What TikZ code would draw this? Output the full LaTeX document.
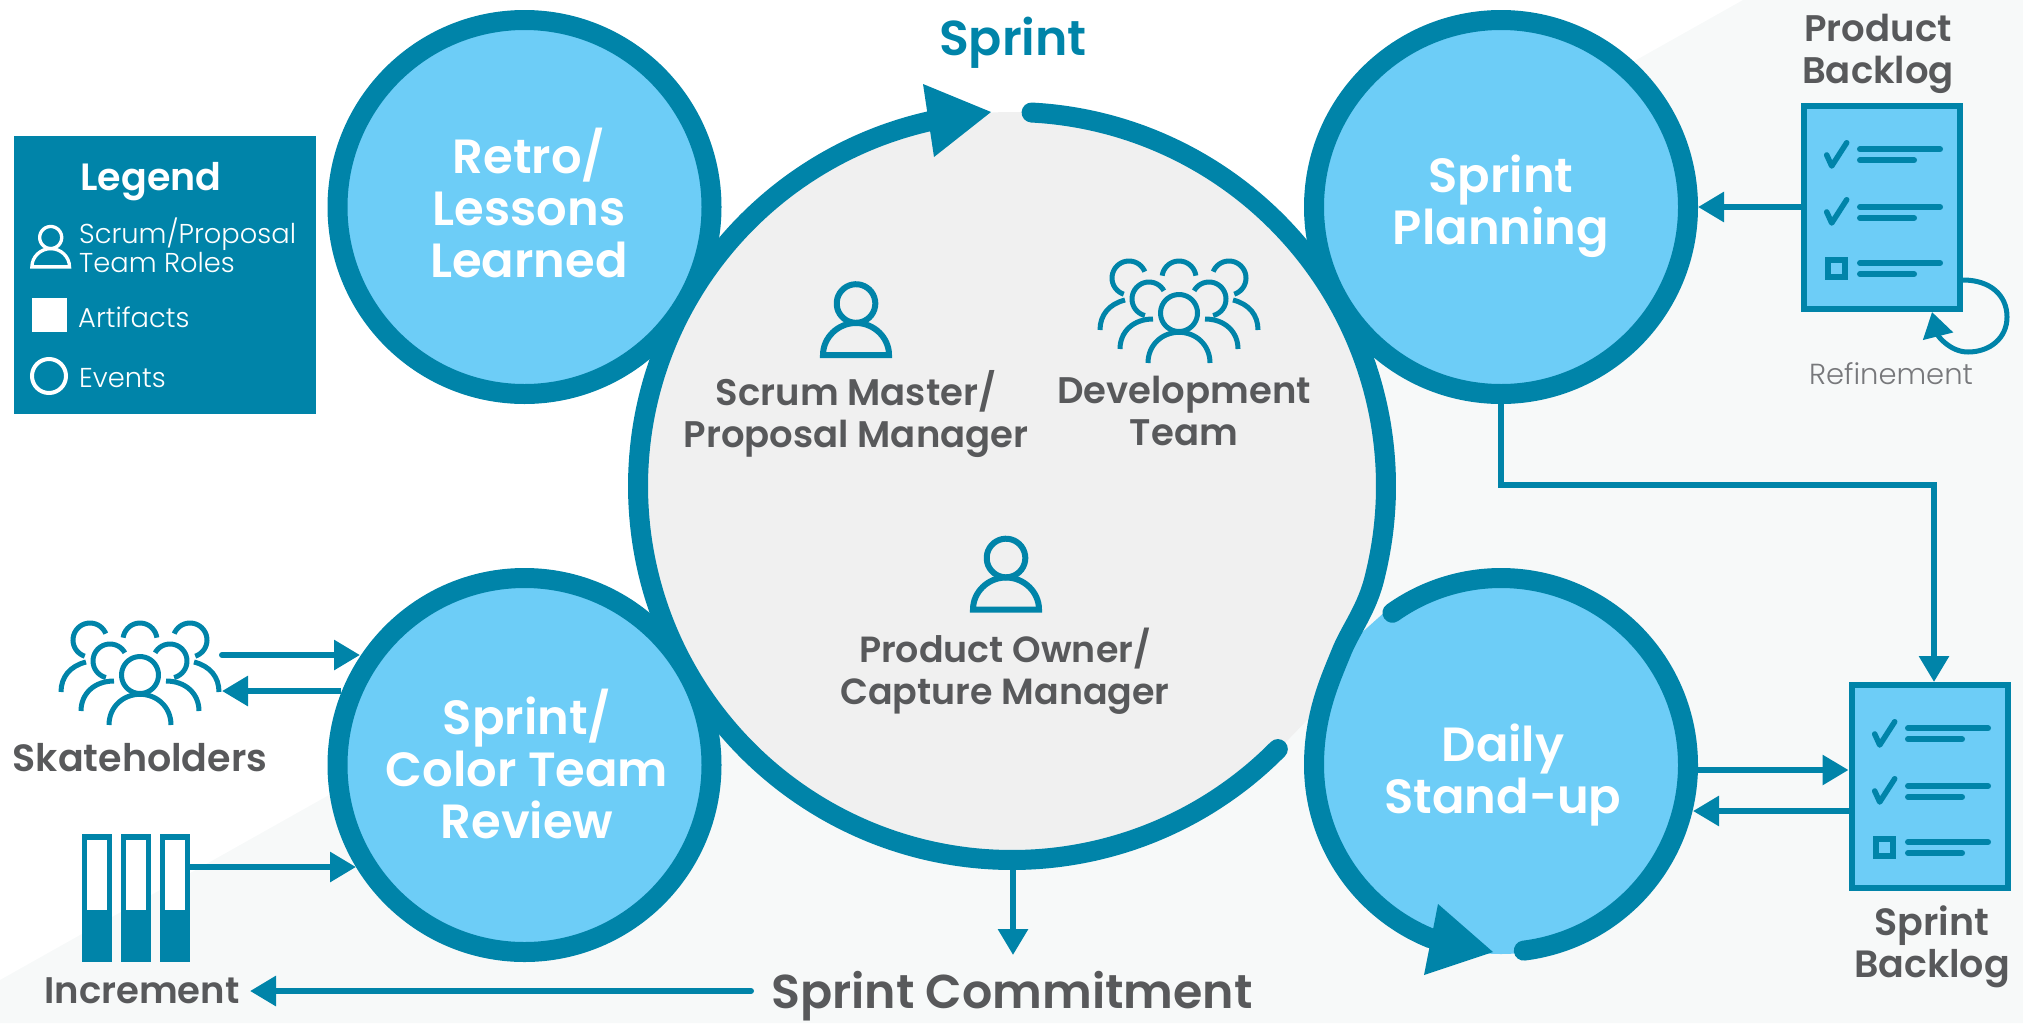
\documentclass[tikz,border=0pt]{standalone}
\usepackage{fontspec}
\setmainfont{Poppins}[BoldFont={Poppins SemiBold}]
\newfontfamily\thinfont{Poppins Light}
\usetikzlibrary{arrows.meta,calc}
\definecolor{ringteal}{HTML}{0084A9}
\definecolor{skyfill}{HTML}{6DCDF7}
\definecolor{loopgray}{HTML}{F0F0F0}
\definecolor{bgtint}{HTML}{F7F9F9}
\definecolor{inkgray}{HTML}{58595B}
\definecolor{thingray}{HTML}{77787B}
\tikzset{
  conn/.style={draw=ringteal,line width=6pt,-{Triangle[length=26pt,width=29pt,color=ringteal]}},
  ringline/.style={draw=ringteal,line width=20pt,line cap=round},
  evt/.style={circle,draw=ringteal,fill=skyfill,line width=20pt,minimum size=374pt,inner sep=0pt},
  evttext/.style={text=white,font=\fontsize{48}{52}\selectfont\bfseries,align=center,inner sep=0pt},
  roletext/.style={text=inkgray,font=\fontsize{37}{42}\selectfont\bfseries,align=center,inner sep=0pt},
  legtext/.style={text=white,font=\fontsize{27.3}{29}\selectfont\thinfont,align=left,anchor=west,inner sep=0pt},
  docbox/.style={rectangle,draw=ringteal,fill=skyfill,line width=6pt,minimum width=156pt,minimum height=203pt,inner sep=0pt},
  binder/.style={rectangle,fill=ringteal,minimum width=30pt,minimum height=128pt,inner sep=0pt},
  person/.pic={
    \draw plot[domain=0:360,samples=40,smooth] ({19.3*cos(\x)},{19.3*sin(\x)});
    \draw[line join=miter] (-33,51.5) .. controls (-33,34) and (-18,19.5) .. (0,19.5) .. controls (18,19.5) and (33,34) .. (33,51.5) -- cycle;
  },
  group/.pic={
    \begin{scope}[ringteal,line width=5pt]
    \draw plot[domain=0:360,samples=40,smooth] ({18.5*cos(\x)},{18.5*sin(\x)});
    \draw (-31,50) .. controls (-31,32) and (-17,19.3) .. (0,19.3) .. controls (17,19.3) and (31,32) .. (31,50);
    \draw plot[domain=-172:-8,samples=20,smooth] ({17*cos(\x)},{-35+17*sin(\x)});
    \draw plot[domain=-22:-252,samples=30,smooth] ({-50+17*cos(\x)},{-35+17*sin(\x)});
    \draw plot[domain=-22:-252,samples=30,smooth] ({50-17*cos(\x)},{-35+17*sin(\x)});
    \draw plot[domain=-29:-256,samples=30,smooth] ({-30+17*cos(\x)},{-14+17*sin(\x)});
    \draw plot[domain=-29:-256,samples=30,smooth] ({30-17*cos(\x)},{-14+17*sin(\x)});
    \draw (-59,36) .. controls (-59,19) and (-46,6) .. (-26,6);
    \draw (59,36) .. controls (59,19) and (46,6) .. (26,6);
    \draw (-79,17) .. controls (-79,2) and (-70,-9) .. (-54,-13);
    \draw (79,17) .. controls (79,2) and (70,-9) .. (54,-13);
    \end{scope}
  },
  checkmark/.pic={
    \draw[ringteal,line width=5.5pt,line cap=round,line join=round] (0,0) -- (5,11) -- (20,-12.3);
  },
  doclines/.pic={
    \pic at (26.7,52) {checkmark};
    \pic at (26.7,109) {checkmark};
    \draw[ringteal,line width=6pt] (28,157) rectangle (45,174);
    \begin{scope}[ringteal,line width=6pt,line cap=round]
    \draw (60,46.3) -- (140,46.3);
    \draw (60,57.3) -- (114,57.3);
    \draw (60,104) -- (140,104);
    \draw (60,115) -- (114,115);
    \draw (60,160) -- (140,160);
    \draw (60,171) -- (114,171);
    \end{scope}
  }
}
\begin{document}
\begin{tikzpicture}[x=1pt,y=-1pt]
\useasboundingbox (0,0) rectangle (2023,1023);
% tinted background
\fill[bgtint] (0,980) -- (1743,0) -- (2023,0) -- (2023,1023) -- (0,1023) -- cycle;
% central loop
\node[circle,fill=loopgray,minimum size=748pt,inner sep=0pt] (loop) at (1012,486) {};
\fill[loopgray] (1283,745) -- (1310,717) -- (1330,680) -- (1200,600) -- cycle;
\node[circle,fill=skyfill,minimum size=378pt,inner sep=0pt] (daily) at (1501,765) {};
\fill[skyfill] (1387,610) -- (1358,636) -- (1330,700) -- (1450,700) -- cycle;
% ring: bottom arc up to the Sprint arrow
\draw[ringline] plot[domain=44.7:258,samples=120,smooth] ({1012+374*cos(\x)},{486+374*sin(\x)});
\fill[ringteal] (991,112) -- (923,84) -- (934,157) -- cycle;
% ring: top right arc, S curve and Daily left side
\draw[ringline] plot[domain=-87:14,samples=60,smooth] ({1012+374*cos(\x)},{486+374*sin(\x)})
  .. controls (1367,610) and (1350,630) .. (1341,653)
  .. controls (1330,680) and (1314,715) .. (1314,765)
  plot[domain=180:112,samples=40,smooth] ({1501+187*cos(\x)},{765+187*sin(\x)});
\fill[ringteal] (1493,952) -- (1438,904) -- (1424,975) -- cycle;
% Daily ring
\draw[ringline] plot[domain=-125.5:83,samples=100,smooth] ({1501+187*cos(\x)},{765+187*sin(\x)});
% events
\node[evt] (retro) at (524.5,207) {};
\node[evt] (plan) at (1501,207) {};
\node[evt] (review) at (524.5,765) {};
\node[evttext] (retrotext) at (529,203) {Retro/\\Lessons\\Learned};
\node[evttext] (plantext) at (1501,206) {Sprint\\Planning};
\node[evttext] (reviewtext) at (527,764) {Sprint/\\Color Team\\Review};
\node[evttext] (dailytext) at (1503,775) {Daily\\Stand-up};
% title and loop contents
\node[text=ringteal,font=\fontsize{49}{52}\selectfont\bfseries,inner sep=0pt] (sprint) at (1013,43) {Sprint};
\pic[ringteal,line width=6pt] at (856,303.5) {person};
\node[roletext] (sm) at (856,414) {Scrum Master/\\Proposal Manager};
\pic at (1179,313) {group};
\node[roletext] (dev) at (1184,411) {Development\\Team};
\pic[ringteal,line width=6pt] at (1006,558) {person};
\node[text=inkgray,font=\fontsize{36.4}{42}\selectfont\bfseries,align=center,inner sep=0pt] (po) at (1005,671) {Product Owner/\\Capture Manager};
% product backlog
\node[roletext] (pbtext) at (1878,54) {Product\\Backlog};
\node[docbox] (pb) at (1882,207.5) {};
\pic at (1800,103) {doclines};
\coordinate (pbside) at (1882,207);
\draw[conn] (pbside -| pb.west) -- (plan.east);
\draw[ringteal,line width=5pt,-{Triangle[length=25pt,width=30pt,color=ringteal]}] (pb.east |- 0,280) .. controls (1990,280) and (2007,295) .. (2007,317) .. controls (2007,338) and (1990,352) .. (1968,352) .. controls (1950,352) and (1938,336) .. (1932,312);
\node[text=thingray,font=\fontsize{29}{32}\selectfont\thinfont,inner sep=0pt] (refine) at (1891,374) {Refinement};
% sprint backlog
\node[docbox] (sb) at (1929.5,786.5) {};
\pic at (1848,682) {doclines};
\coordinate (turn) at (1934,485);
\draw[conn] (plan.south) |- (turn) -- (turn |- sb.north);
\coordinate (dailyout) at (1698,770);
\coordinate (dailyin) at (1693,811);
\draw[conn] (dailyout) -- (dailyout -| sb.west);
\draw[conn] (dailyin -| sb.west) -- (dailyin);
\node[text=inkgray,font=\fontsize{38}{42}\selectfont\bfseries,align=center,inner sep=0pt] (sbtext) at (1932,947) {Sprint\\Backlog};
% stakeholders
\pic at (140,675) {group};
\node[text=inkgray,font=\fontsize{38}{42}\selectfont\bfseries,inner sep=0pt] (sk) at (140,758) {Skateholders};
\coordinate (skout) at (222,655);
\coordinate (skrev) at (360,655);
\coordinate (revout) at (341,691);
\coordinate (skin) at (222,691);
\draw[conn,line cap=round] (skout) -- (skrev);
\draw[conn] (revout) -- (skin);
% increment
\node[binder] (b1) at (97,898) {};
\node[binder] (b2) at (136,898) {};
\node[binder] (b3) at (175,898) {};
\fill[white] (87,840) rectangle (107,910);
\fill[white] (126,840) rectangle (146,910);
\fill[white] (165,840) rectangle (185,910);
\coordinate (incout) at (190,867);
\coordinate (revin) at (356,867);
\draw[conn] (incout) -- (revin);
\node[roletext] (inc) at (142,991) {Increment};
% sprint commitment
\node[text=inkgray,font=\fontsize{47.5}{52}\selectfont\bfseries,inner sep=0pt] (commit) at (1012,996) {Sprint Commitment};
\coordinate (commitin) at (1013,955);
\coordinate (commitend) at (751,991);
\coordinate (inctip) at (250,991);
\draw[conn] (commitin |- loop.south) -- (commitin);
\draw[conn,line cap=round] (commitend) -- (inctip);
% legend
\node[rectangle,fill=ringteal,minimum width=302pt,minimum height=278pt,inner sep=0pt] (legend) at (165,275) {};
\node[text=white,font=\fontsize{38}{40}\selectfont\bfseries,inner sep=0pt] (legtitle) at (151,182) {Legend};
\pic[white,line width=3.3pt,scale=.57] at (50.7,237.5) {person};
\node[legtext] (legroles) at (79,245) {Scrum/Proposal\\Team Roles};
\node[rectangle,fill=white,minimum width=35pt,minimum height=34pt,inner sep=0pt] (legsq) at (49.5,315) {};
\node[legtext] (legart) at (78,317) {Artifacts};
\node[circle,draw=white,line width=4pt,minimum size=34pt,inner sep=0pt] (legcirc) at (49,376) {};
\node[legtext] (legev) at (79,378) {Events};
\end{tikzpicture}
\end{document}
